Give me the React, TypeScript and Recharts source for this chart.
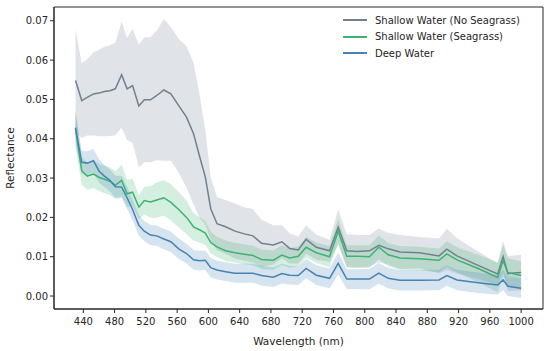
import React from "react";
import { Area, ComposedChart, Line, ReferenceArea, XAxis, YAxis } from "recharts";

// Wavelength samples (nm)
const wavelengths = [
  430, 438, 445, 453, 460, 467, 474, 481, 489, 496, 503,
  511, 518, 526, 534, 543, 552, 562, 572, 581,
  589, 596, 603, 611, 622, 634, 646, 657, 668,
  683, 694, 704, 715, 725, 738, 755, 766, 777,
  790, 806, 818, 830, 845, 870, 895, 905, 918,
  945, 970, 977, 983, 1000,
];

// mean reflectance per class
const noSeagrass = [
  0.0548, 0.0497, 0.0505, 0.0514, 0.0516, 0.052, 0.0522, 0.0527, 0.0563, 0.0527, 0.0535,
  0.0483, 0.0499, 0.0499, 0.051, 0.0524, 0.0514, 0.0484, 0.0455, 0.0413,
  0.0353, 0.0303, 0.0222, 0.0184, 0.0176, 0.0165, 0.0158, 0.0153, 0.0134,
  0.013, 0.0138, 0.0121, 0.0117, 0.0144, 0.0124, 0.0115, 0.0175, 0.0115,
  0.0113, 0.0115, 0.0129, 0.012, 0.0112, 0.011, 0.0102, 0.0119, 0.0102,
  0.0078, 0.0056, 0.01, 0.0057, 0.006,
];
const seagrass = [
  0.0425, 0.0318, 0.0305, 0.031, 0.0302, 0.0297, 0.0292, 0.0282, 0.0294, 0.026, 0.0264,
  0.0226, 0.0243, 0.0239, 0.0244, 0.025, 0.0238, 0.022, 0.02, 0.0176,
  0.0168, 0.016, 0.0136, 0.0125, 0.0115, 0.011, 0.0106, 0.0103, 0.0093,
  0.0091, 0.0104, 0.0097, 0.0101, 0.0124, 0.011, 0.01, 0.0165, 0.0101,
  0.0101, 0.01, 0.0124, 0.0105, 0.0097, 0.0095, 0.0091, 0.0107, 0.0092,
  0.007, 0.0047, 0.009, 0.006, 0.0052,
];
const deepWater = [
  0.0428, 0.034, 0.0338, 0.0344, 0.0318, 0.0305, 0.0294, 0.0278, 0.0277, 0.025, 0.022,
  0.018, 0.0165, 0.0155, 0.0153, 0.0145, 0.0138, 0.012, 0.0108, 0.0092,
  0.009, 0.0091, 0.0072, 0.0066, 0.0062, 0.0058, 0.0058, 0.0058, 0.0052,
  0.0048, 0.0057, 0.0053, 0.0052, 0.007, 0.0053, 0.0045, 0.0083, 0.0043,
  0.0043, 0.0043, 0.0058, 0.0045, 0.004, 0.004, 0.0041, 0.0052, 0.0041,
  0.0034, 0.0028, 0.0041, 0.0025, 0.002,
];

// standard deviation (half-width of shaded band)
const noSeagrassStd = [
  0.013, 0.0095, 0.0097, 0.0106, 0.011, 0.0114, 0.0115, 0.0118, 0.0135, 0.013, 0.0145,
  0.0156, 0.0159, 0.0159, 0.0165, 0.018, 0.017, 0.017, 0.018, 0.018,
  0.0155, 0.012, 0.008, 0.0068, 0.0068, 0.007, 0.0068, 0.0068, 0.006,
  0.005, 0.0042, 0.0038, 0.0034, 0.0036, 0.0032, 0.0028, 0.0045, 0.0042,
  0.0042, 0.004, 0.0043, 0.004, 0.0043, 0.004, 0.0044, 0.0052, 0.0045,
  0.0035, 0.0028, 0.004, 0.0045, 0.0045,
];
const seagrassStd = [
  0.0045, 0.0035, 0.0035, 0.0035, 0.0035, 0.0035, 0.0035, 0.0035, 0.004, 0.0035, 0.0035,
  0.003, 0.0035, 0.004, 0.0045, 0.0045, 0.0046, 0.0045, 0.0042, 0.0035,
  0.0032, 0.003, 0.0028, 0.0026, 0.0026, 0.0025, 0.0025, 0.0025, 0.0025,
  0.0025, 0.0025, 0.0025, 0.0025, 0.0026, 0.0026, 0.0027, 0.003, 0.0028,
  0.0028, 0.0029, 0.003, 0.003, 0.003, 0.003, 0.003, 0.0032, 0.0032,
  0.0035, 0.0038, 0.004, 0.0036, 0.0036,
];
const deepWaterStd = [
  0.004, 0.003, 0.003, 0.003, 0.003, 0.0028, 0.0028, 0.0028, 0.0028, 0.0028, 0.0027,
  0.0026, 0.0026, 0.0026, 0.0026, 0.0026, 0.0026, 0.0026, 0.0025, 0.0025,
  0.0025, 0.0025, 0.0025, 0.0024, 0.0024, 0.0024, 0.0024, 0.0024, 0.0025,
  0.0025, 0.0025, 0.0024, 0.0024, 0.0025, 0.0025, 0.0025, 0.0028, 0.0025,
  0.0025, 0.0026, 0.0026, 0.0026, 0.0026, 0.0026, 0.0026, 0.0026, 0.0026,
  0.0026, 0.0025, 0.0026, 0.0025, 0.0025,
];

const xTicks = [440, 480, 520, 560, 600, 640, 680, 720, 760, 800, 840, 880, 920, 960, 1000];
const yTicks = [0, 0.01, 0.02, 0.03, 0.04, 0.05, 0.06, 0.07];
const X_DOMAIN = [402.5, 1028];
const Y_DOMAIN = [-0.0033, 0.0735];

const GRAY = "#708090";
const GREEN = "#3cb371";
const BLUE = "#4682b4";
const TEXT = "#262626";
const FONT = "'DejaVu Sans', sans-serif";

const series = [
  { key: "ns", name: "Shallow Water (No Seagrass)", color: GRAY },
  { key: "sg", name: "Shallow Water (Seagrass)", color: GREEN },
  { key: "dw", name: "Deep Water", color: BLUE },
];

const data = wavelengths.map((w, i) => ({
  w,
  ns: noSeagrass[i],
  nsBand: [noSeagrass[i] - noSeagrassStd[i], noSeagrass[i] + noSeagrassStd[i]],
  sg: seagrass[i],
  sgBand: [seagrass[i] - seagrassStd[i], seagrass[i] + seagrassStd[i]],
  dw: deepWater[i],
  dwBand: [deepWater[i] - deepWaterStd[i], deepWater[i] + deepWaterStd[i]],
}));

// legend sits inside the axes, top right, no frame
function LegendBox() {
  return (
    <div style={{ position: "absolute", left: 343, top: 12, fontFamily: FONT, fontSize: 10, color: TEXT }}>
      {series.map((s) => (
        <div key={s.key} style={{ display: "flex", alignItems: "center", height: 16.5 }}>
          <span style={{ display: "inline-block", width: 24, height: 1.6, background: s.color, marginRight: 8 }} />
          <span>{s.name}</span>
        </div>
      ))}
    </div>
  );
}

export default function App() {
  const tick = { fontSize: 10, fill: TEXT, fontFamily: FONT };
  return (
    <div style={{ position: "absolute", left: 0, top: 0, width: 550, height: 351, background: "#fff" }}>
      <ComposedChart width={550} height={351} data={data} margin={{ top: 7, right: 7, bottom: 0, left: 0 }}>
        <XAxis
          dataKey="w"
          type="number"
          domain={X_DOMAIN}
          ticks={xTicks}
          interval={0}
          height={42}
          tick={tick}
          tickSize={4}
          tickMargin={5}
          stroke={TEXT}
          allowDataOverflow
          label={{ value: "Wavelength (nm)", position: "insideBottom", offset: 6, style: { fontSize: 10.5, fill: TEXT, fontFamily: FONT } }}
        />
        <YAxis
          type="number"
          domain={Y_DOMAIN}
          ticks={yTicks}
          interval={0}
          width={54}
          tick={tick}
          tickSize={4}
          stroke={TEXT}
          allowDataOverflow
          tickFormatter={(v) => Number(v).toFixed(2)}
          label={{ value: "Reflectance", angle: -90, position: "insideLeft", offset: 10, style: { textAnchor: "middle", fontSize: 10.5, fill: TEXT, fontFamily: FONT } }}
        />
        {series.map((s) => [
          <Area
            key={s.key + "Band"}
            dataKey={s.key + "Band"}
            type="linear"
            stroke="none"
            fill={s.color}
            fillOpacity={0.22}
            isAnimationActive={false}
            activeDot={false}
            legendType="none"
          />,
          <Line
            key={s.key}
            dataKey={s.key}
            name={s.name}
            type="linear"
            stroke={s.color}
            strokeWidth={1.5}
            dot={false}
            activeDot={false}
            isAnimationActive={false}
          />,
        ])}
        <ReferenceArea
          x1={X_DOMAIN[0]}
          x2={X_DOMAIN[1]}
          y1={Y_DOMAIN[0]}
          y2={Y_DOMAIN[1]}
          fill="none"
          stroke={TEXT}
          strokeWidth={1}
          ifOverflow="visible"
        />
      </ComposedChart>
      <LegendBox />
    </div>
  );
}
